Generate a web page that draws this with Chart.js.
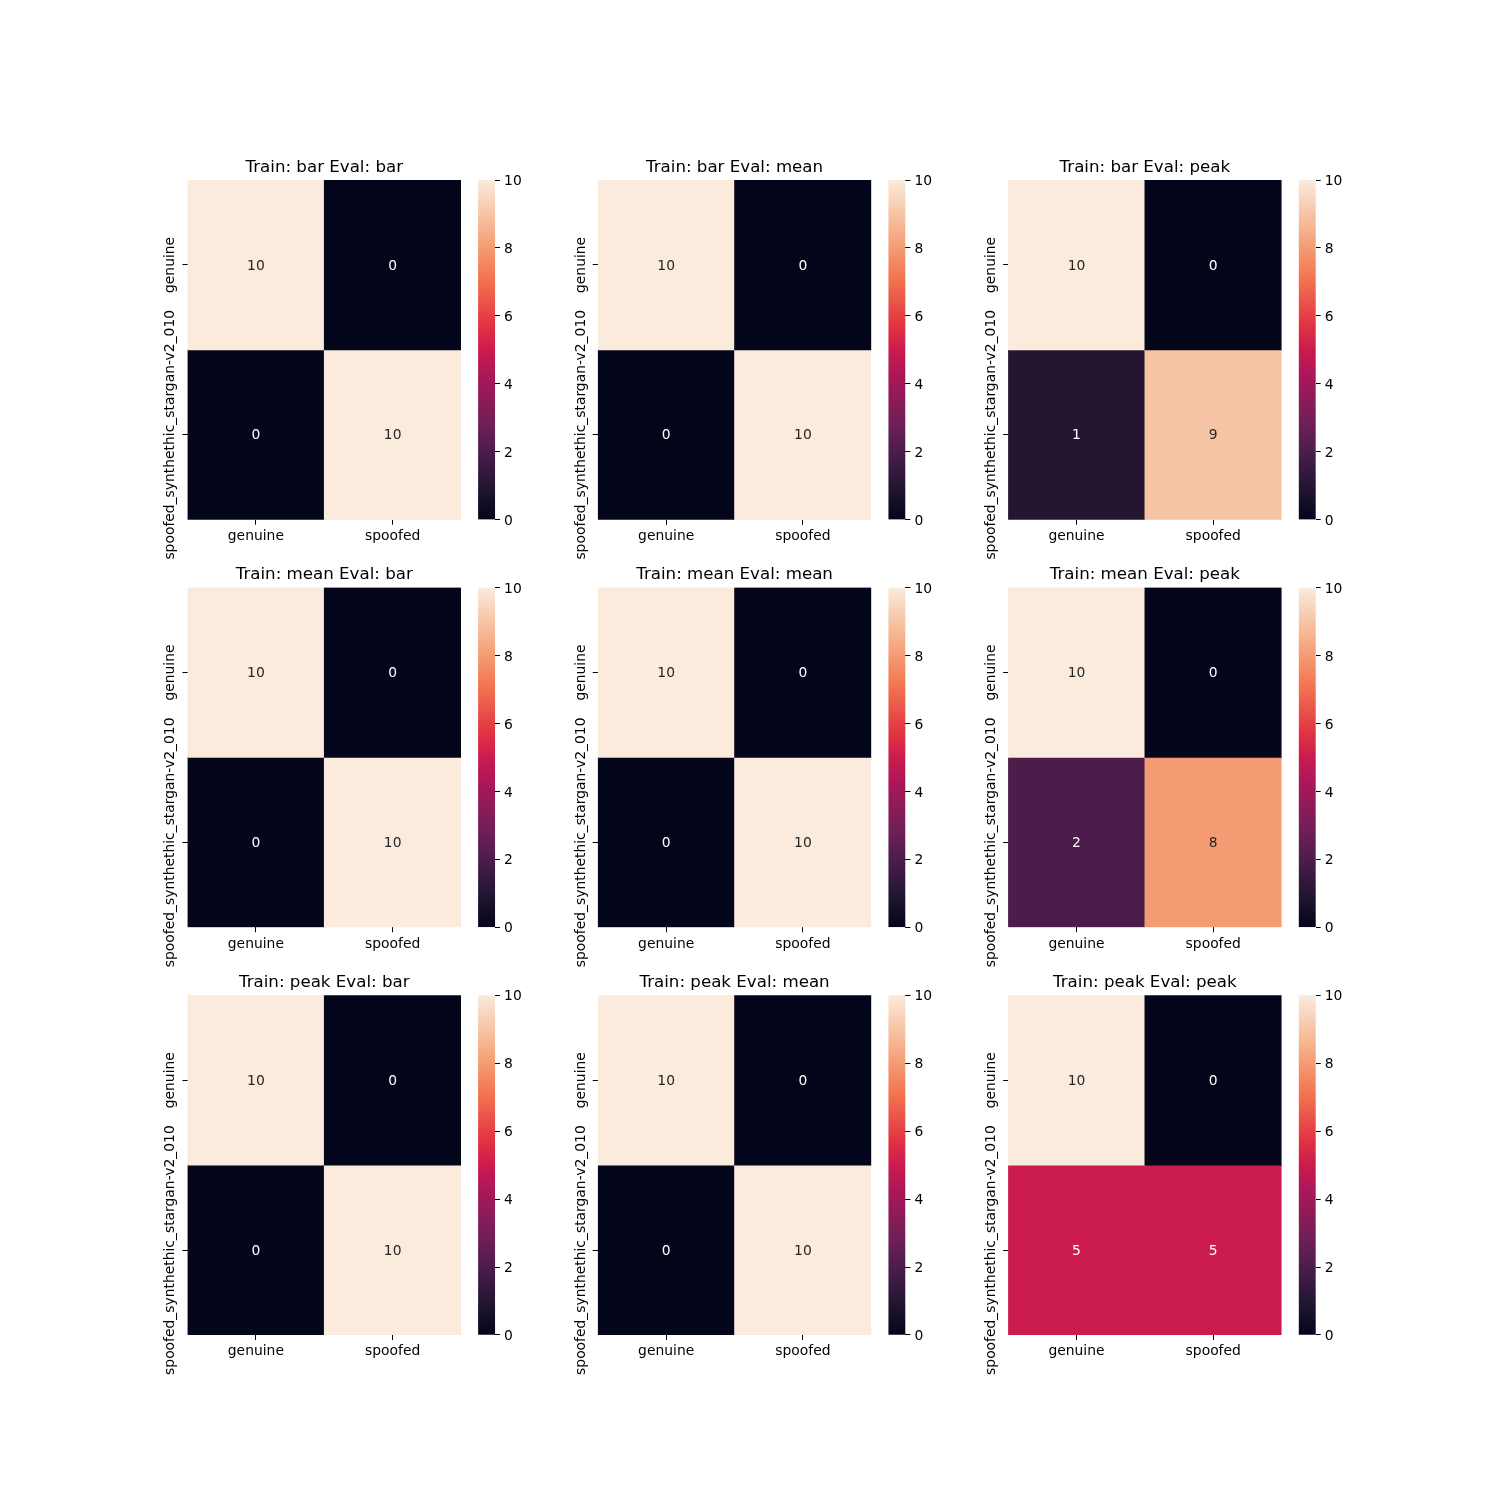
<!DOCTYPE html>
<html>
<head>
<meta charset="utf-8">
<script src="https://cdn.jsdelivr.net/npm/chart.js@4.4.1/dist/chart.umd.min.js"></script>
<style>
html,body{margin:0;padding:0;background:#fff;}
#wrap{position:relative;width:1500px;height:1500px;overflow:hidden;background:#fff;}
canvas{position:absolute;}
</style>
</head>
<body>
<div id="wrap"></div>
<script>
// ---------------- DATA ----------------
const trainMethods = ['bar', 'mean', 'peak'];
const evalMethods = ['bar', 'mean', 'peak'];
const xLabels = ['genuine', 'spoofed'];
const yLabels = ['genuine', 'spoofed_synthethic_stargan-v2_010'];

const cm_bar_bar   = [[10, 0], [0, 10]];
const cm_bar_mean  = [[10, 0], [0, 10]];
const cm_bar_peak  = [[10, 0], [1, 9]];
const cm_mean_bar  = [[10, 0], [0, 10]];
const cm_mean_mean = [[10, 0], [0, 10]];
const cm_mean_peak = [[10, 0], [2, 8]];
const cm_peak_bar  = [[10, 0], [0, 10]];
const cm_peak_mean = [[10, 0], [0, 10]];
const cm_peak_peak = [[10, 0], [5, 5]];

const matrices = [
  [cm_bar_bar, cm_bar_mean, cm_bar_peak],
  [cm_mean_bar, cm_mean_mean, cm_mean_peak],
  [cm_peak_bar, cm_peak_mean, cm_peak_peak]
];

const vMin = 0;
const vMax = 10;
const colorbarTickStep = 2;

// ---------------- STYLE / LAYOUT ----------------
const FONT = '"DejaVu Sans", "Liberation Sans", sans-serif';
const TICK_PX = 13.89;
const TITLE_PX = 16.67;

// rocket colormap stops
const rocketStops = [
  [0.000, '#03051A'], [0.100, '#241633'], [0.143, '#35193E'], [0.200, '#4C1D4B'],
  [0.286, '#701F57'], [0.429, '#AD1759'], [0.500, '#CB1B4F'], [0.571, '#E13342'],
  [0.714, '#F37651'], [0.800, '#F49B73'], [0.857, '#F6B48F'], [0.900, '#F6C4A5'],
  [1.000, '#FAEBDD']
];
function hexToRgb(h){ return [parseInt(h.slice(1,3),16), parseInt(h.slice(3,5),16), parseInt(h.slice(5,7),16)]; }
function cmap(v){
  let t = (v - vMin) / (vMax - vMin);
  t = Math.max(0, Math.min(1, t));
  for (let i = 0; i < rocketStops.length - 1; i++) {
    const [t0, c0] = rocketStops[i], [t1, c1] = rocketStops[i+1];
    if (t >= t0 && t <= t1) {
      const f = (t - t0) / (t1 - t0);
      const a = hexToRgb(c0), b = hexToRgb(c1);
      const r = a.map((x, k) => Math.round(x + (b[k] - x) * f));
      return `rgb(${r[0]},${r[1]},${r[2]})`;
    }
  }
  return rocketStops[rocketStops.length-1][1];
}
function lum(v){
  const c = cmap(v).match(/\d+/g).map(Number).map(x => {
    x /= 255; return x <= 0.03928 ? x / 12.92 : Math.pow((x + 0.055) / 1.055, 2.4);
  });
  return 0.2126*c[0] + 0.7152*c[1] + 0.0722*c[2];
}

// figure geometry (matplotlib subplot params)
const COLS = [187.5, 597.8, 1008.1];
const ROWS = [180.0, 587.6, 995.3];
const AX_W = 273.5, AX_H = 339.7, CB_GAP = 17.1, CB_W = 17.0;

const wrap = document.getElementById('wrap');
function makeCanvas(left, top, w, h){
  const c = document.createElement('canvas');
  c.width = w; c.height = h;
  c.style.left = left + 'px'; c.style.top = top + 'px';
  c.style.width = w + 'px'; c.style.height = h + 'px';
  wrap.appendChild(c);
  return c;
}

const tickFont = { family: FONT, size: TICK_PX, weight: 'normal' };
const gridTicks = { display: true, drawOnChartArea: false, drawTicks: true, tickLength: 5, color: '#000', lineWidth: 1, offset: false };

function cellTextPlugin(matrix){
  return {
    id: 'cellText',
    afterDatasetsDraw(chart){
      const ctx = chart.ctx;
      ctx.save();
      ctx.font = `${TICK_PX}px ${FONT}`;
      ctx.textAlign = 'center';
      ctx.textBaseline = 'middle';
      chart.data.datasets.forEach((ds, i) => {
        const meta = chart.getDatasetMeta(i);
        meta.data.forEach((el, j) => {
          const v = matrix[i][j];
          ctx.fillStyle = lum(v) < 0.408 ? '#ffffff' : '#262626';
          ctx.fillText(String(v), el.x, (el.y + el.base) / 2 + 1);
        });
      });
      ctx.restore();
    }
  };
}

// rotated y tick labels, placed at the y scale's tick pixels
const rotatedYLabels = {
  id: 'rotatedYLabels',
  afterDraw(chart){
    const scale = chart.scales.y;
    const ctx = chart.ctx;
    ctx.save();
    ctx.font = `${TICK_PX}px ${FONT}`;
    ctx.fillStyle = '#000';
    ctx.textAlign = 'center';
    ctx.textBaseline = 'alphabetic';
    scale.ticks.forEach((t, i) => {
      const y = scale.getPixelForValue(t.value);
      const x = chart.chartArea.left - 13.3;
      ctx.save();
      ctx.translate(x, y);
      ctx.rotate(-Math.PI / 2);
      ctx.fillText(yLabels[i], 0, 0);
      ctx.restore();
    });
    ctx.restore();
  }
};

for (let ri = 0; ri < 3; ri++) {
  for (let ci = 0; ci < 3; ci++) {
    const matrix = matrices[ri][ci];
    const cx = COLS[ci], ry = ROWS[ri];

    // ---- heatmap ----
    const cl = Math.floor(cx) - 61;
    const ct = Math.floor(ry) - 40;
    const cw = 345;
    const ch = 432;
    const yAxisW = cx - cl;
    const padTop = ry - Math.floor(ry);
    const padRight = cw - yAxisW - AX_W;
    const xAxisH = ch - 40 - padTop - AX_H;
    const canvas = makeCanvas(cl, ct, cw, ch);
    new Chart(canvas, {
      type: 'bar',
      data: {
        labels: xLabels,
        datasets: yLabels.map((yl, i) => ({
          label: yl,
          data: xLabels.map(() => [i, i + 1]),
          backgroundColor: matrix[i].map(v => cmap(v)),
          borderWidth: 0,
          barPercentage: 1,
          categoryPercentage: 1,
          grouped: false
        }))
      },
      options: {
        responsive: false,
        animation: false,
        devicePixelRatio: 1,
        layout: { padding: { left: 0, right: padRight, top: padTop, bottom: 0 } },
        plugins: {
          legend: { display: false },
          tooltip: { enabled: false },
          title: {
            display: true,
            text: `Train: ${trainMethods[ri]} Eval: ${evalMethods[ci]}`,
            fullSize: false,
            color: '#000',
            font: { family: FONT, size: TITLE_PX, weight: 'normal', lineHeight: 1.2 },
            padding: { top: 17.5, bottom: 2.5 }
          }
        },
        scales: {
          x: {
            type: 'category',
            offset: true,
            grid: gridTicks,
            border: { display: false },
            ticks: { font: tickFont, color: '#000', padding: 3.5, autoSkip: false, minRotation: 0, maxRotation: 0 },
            afterFit: s => { s.height = xAxisH; }
          },
          y: {
            type: 'linear',
            min: 0,
            max: yLabels.length,
            reverse: true,
            grid: gridTicks,
            border: { display: false },
            afterBuildTicks: s => { s.ticks = yLabels.map((_, i) => ({ value: i + 0.5 })); },
            ticks: { display: false, autoSkip: false },
            afterFit: s => { s.width = yAxisW; }
          }
        }
      },
      plugins: [cellTextPlugin(matrix), rotatedYLabels]
    });

    // ---- colorbar ----
    const cbL = cx + AX_W + CB_GAP;
    const bl = Math.floor(cbL);
    const bt = Math.floor(ry) - 25;
    const bPadL = cbL - bl;
    const bPadT = ry - Math.floor(ry) + 25;
    const bw = Math.ceil(bPadL + CB_W + 40);
    const bh = 392;
    const bAxisW = bw - bPadL - CB_W;
    const bPadB = bh - bPadT - AX_H;
    const cbCanvas = makeCanvas(bl, bt, bw, bh);
    new Chart(cbCanvas, {
      type: 'bar',
      data: {
        labels: ['cb'],
        datasets: [{
          data: [[vMin, vMax]],
          backgroundColor: (ctx) => {
            const ca = ctx.chart.chartArea;
            if (!ca) return cmap(vMin);
            const g = ctx.chart.ctx.createLinearGradient(0, ca.bottom, 0, ca.top);
            rocketStops.forEach(s => g.addColorStop(s[0], s[1]));
            return g;
          },
          borderWidth: 0,
          barPercentage: 1,
          categoryPercentage: 1
        }]
      },
      options: {
        responsive: false,
        animation: false,
        devicePixelRatio: 1,
        layout: { padding: { left: bPadL, right: 0, top: bPadT, bottom: bPadB } },
        plugins: { legend: { display: false }, tooltip: { enabled: false }, title: { display: false } },
        scales: {
          x: { type: 'category', display: false, offset: true },
          y: {
            type: 'linear',
            position: 'right',
            min: vMin,
            max: vMax,
            grid: gridTicks,
            border: { display: false },
            ticks: { stepSize: colorbarTickStep, font: tickFont, color: '#000', padding: 4, autoSkip: false, labelOffset: 1.5 },
            afterFit: s => { s.width = bAxisW; }
          }
        }
      }
    });
  }
}
</script>
</body>
</html>
